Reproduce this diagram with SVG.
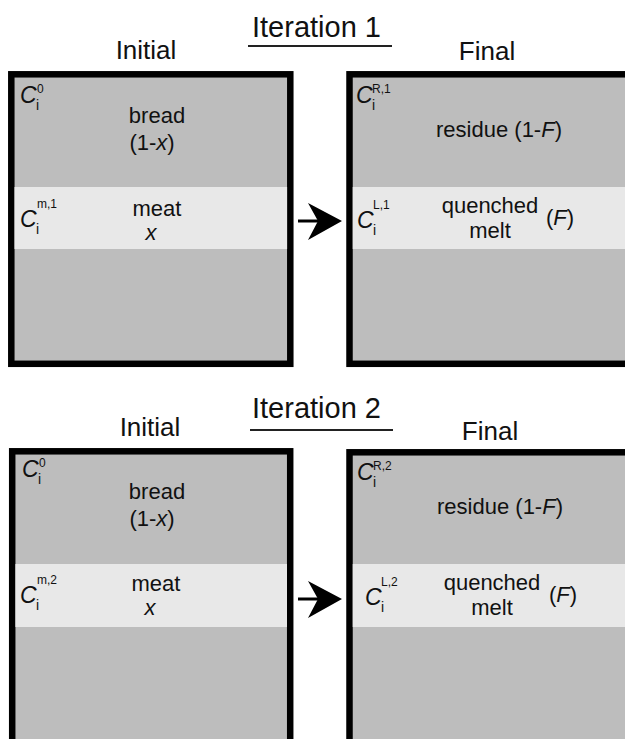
<svg xmlns="http://www.w3.org/2000/svg" width="625" height="739" viewBox="0 0 625 739">
<style>
text{font-family:"Liberation Sans",Arial,sans-serif;fill:#111}
.title{font-size:29px}
.head{font-size:26px;text-anchor:middle}
.lbl{font-size:22px;text-anchor:middle}
.lbls{font-size:22px}
.C{font-size:23px;font-style:italic}
.sub{font-size:14px}
.sup{font-size:12px}
.it{font-style:italic}
.box{fill:#bdbdbd;stroke:#000;stroke-width:6.5}
.band{fill:#e8e8e8}
.ul{stroke:#222;stroke-width:2}
.shaft{stroke:#000;stroke-width:3}
</style>
<rect width="625" height="739" fill="#fff"/>

<g id="row1">
<text class="title" x="252" y="37">Iteration 1</text>
<line class="ul" x1="248" y1="46" x2="392" y2="46"/>
<text class="head" x="146" y="59">Initial</text>
<text class="head" x="487" y="60">Final</text>
</g>

<g id="initial1">
<rect class="box" x="11.3" y="74.3" width="279" height="289.5"/>
<rect class="band" x="14.5" y="187" width="272.6" height="62"/>
<text class="C" x="20" y="103">C</text><text class="sub" x="36" y="110">i</text><text class="sup" x="37" y="93">0</text>
<text class="lbl" x="157" y="123">bread</text>
<text class="lbl" x="152" y="150">(1-<tspan class="it">x</tspan>)</text>
<text class="C" x="20" y="227">C</text><text class="sub" x="36" y="234">i</text><text class="sup" x="37" y="208">m,1</text>
<text class="lbl" x="157" y="216">meat</text>
<text class="lbl it" x="151" y="240">x</text>
</g>

<g id="final1">
<rect class="box" x="349.5" y="74.3" width="290" height="289.5"/>
<rect class="band" x="352.7" y="187" width="272.3" height="62"/>
<text class="C" x="356" y="103">C</text><text class="sub" x="372" y="110">i</text><text class="sup" x="372" y="93">R,1</text>
<text class="lbl" x="499" y="137">residue (1-<tspan class="it">F</tspan>)</text>
<text class="C" x="357" y="228">C</text><text class="sub" x="373" y="235">i</text><text class="sup" x="373" y="209">L,1</text>
<text class="lbl" x="490" y="213">quenched</text>
<text class="lbl" x="490" y="238">melt</text>
<text class="lbls" x="546" y="225">(<tspan class="it">F</tspan>)</text>
</g>

<g id="row2">
<text class="title" x="252" y="418">Iteration 2</text>
<line class="ul" x1="250" y1="430" x2="393" y2="430"/>
<text class="head" x="150" y="436">Initial</text>
<text class="head" x="490" y="440">Final</text>
</g>

<g id="initial2">
<rect class="box" x="12.2" y="451.3" width="278" height="300"/>
<rect class="band" x="15.4" y="564" width="271.6" height="63"/>
<text class="C" x="22" y="477">C</text><text class="sub" x="38" y="484">i</text><text class="sup" x="39" y="467">0</text>
<text class="lbl" x="157" y="499">bread</text>
<text class="lbl" x="152" y="526">(1-<tspan class="it">x</tspan>)</text>
<text class="C" x="20" y="603">C</text><text class="sub" x="36" y="610">i</text><text class="sup" x="37" y="584">m,2</text>
<text class="lbl" x="156" y="591">meat</text>
<text class="lbl it" x="150" y="615">x</text>
</g>

<g id="final2">
<rect class="box" x="349.5" y="452.3" width="290" height="300"/>
<rect class="band" x="352.7" y="564" width="272.3" height="63"/>
<text class="C" x="357" y="480">C</text><text class="sub" x="373" y="487">i</text><text class="sup" x="373" y="470">R,2</text>
<text class="lbl" x="500" y="514">residue (1-<tspan class="it">F</tspan>)</text>
<text class="C" x="365" y="605">C</text><text class="sub" x="381" y="612">i</text><text class="sup" x="381" y="586">L,2</text>
<text class="lbl" x="492" y="590">quenched</text>
<text class="lbl" x="492" y="615">melt</text>
<text class="lbls" x="549" y="602">(<tspan class="it">F</tspan>)</text>
</g>

<g id="connectors">
<line class="shaft" x1="298" y1="221" x2="318" y2="221"/>
<path d="M342,221 L308,203 L318,221 L308,240 Z" fill="#000"/>
<line class="shaft" x1="298" y1="599" x2="318" y2="599"/>
<path d="M342,599 L308,581 L318,599 L308,618 Z" fill="#000"/>
</g>
</svg>
